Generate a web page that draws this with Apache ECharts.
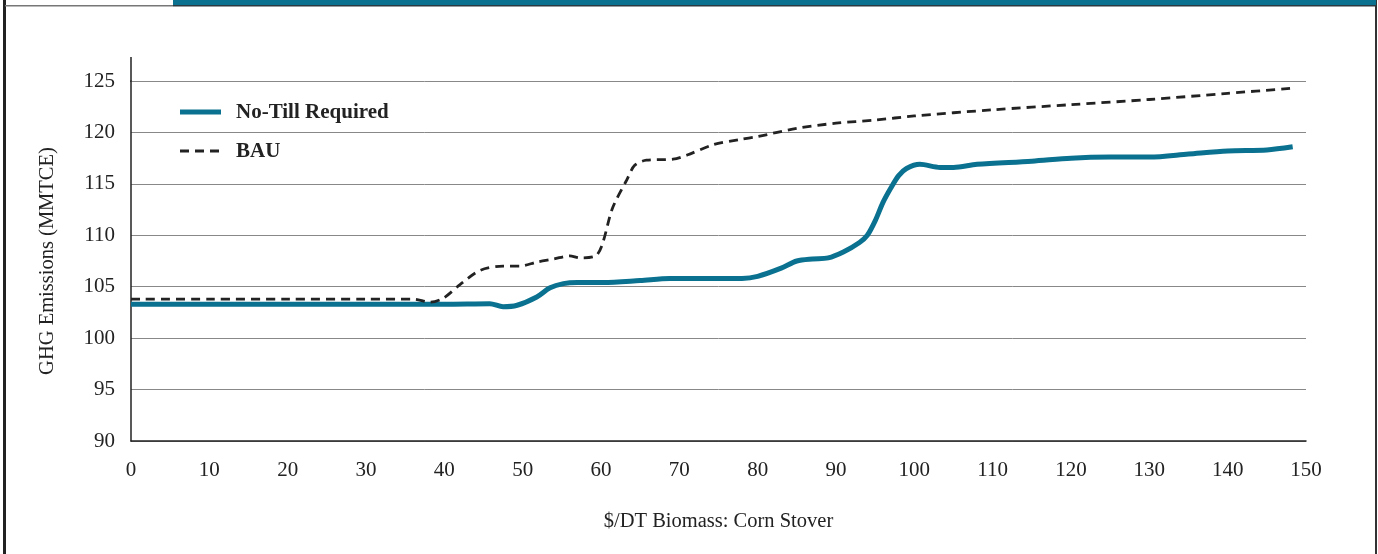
<!DOCTYPE html>
<html>
<head>
<meta charset="utf-8">
<script src="https://cdn.jsdelivr.net/npm/echarts@6/dist/echarts.min.js"></script>
<style>
html,body{margin:0;padding:0;background:#fff;}
#chart{width:1378px;height:554px;}
</style>
</head>
<body>
<div id="chart"></div>
<script>
// ---- data ----
const xTicks = [0,10,20,30,40,50,60,70,80,90,100,110,120,130,140,150];
const yTicks = [90,95,100,105,110,115,120,125];

const noTillX = [0,10,20,30,40,45.8,47.5,49.3,51.8,53.5,55.2,57,60.3,65,68.8,72,78,80,83,85,87,89,91,93,94,95,96,97,98,99,100.7,103.3,105,108,115,120,125,130,135,140,145,148.3];
const noTillY = [103.3,103.3,103.3,103.3,103.3,103.35,103.05,103.2,104.0,104.9,105.3,105.4,105.4,105.6,105.8,105.8,105.8,106.0,106.8,107.5,107.7,107.8,108.4,109.3,110.0,111.4,113.2,114.6,115.8,116.5,116.9,116.6,116.6,116.9,117.2,117.5,117.6,117.6,117.9,118.2,118.3,118.6];

const bauX = [0,10,20,30,36,38.2,39.9,42,44.6,47.5,49.7,51.8,54,56,57.3,59.5,61.5,63.3,64.3,65.8,69.2,71,74.3,77.7,80,85,90,95,100,110,120,130,140,148.3];
const bauY = [103.8,103.8,103.8,103.8,103.8,103.5,103.9,105.2,106.6,107.0,107.0,107.4,107.7,108.0,107.8,108.1,112.7,115.4,116.8,117.3,117.4,117.8,118.8,119.3,119.6,120.4,120.9,121.2,121.6,122.2,122.7,123.2,123.8,124.3];

const seriesNames = ['No-Till Required','BAU'];
const xName = '$/DT Biomass: Corn Stover';
const yName = 'GHG Emissions (MMTCE)';

const teal = '#0a7290';
const ink = '#222';
const font = '"Liberation Serif", "DejaVu Serif", serif';

const zip = (xs, ys) => xs.map((x, i) => [x, ys[i]]);

const chart = echarts.init(document.getElementById('chart'), null, {renderer: 'canvas'});
chart.setOption({
  animation: false,
  backgroundColor: '#fff',
  textStyle: {fontFamily: font},
  grid: {left: 131, right: 72, top: 81, bottom: 113, containLabel: false},
  legend: {show: false, data: seriesNames},
  xAxis: {
    type: 'value',
    min: 0, max: 150, interval: 10,
    name: xName,
    nameLocation: 'middle',
    nameGap: 70,
    nameTextStyle: {fontFamily: font, fontSize: 20.5, color: ink},
    axisLine: {show: true, lineStyle: {color: ink, width: 1.5}},
    axisTick: {show: false},
    splitLine: {show: false},
    axisLabel: {fontFamily: font, fontSize: 21, color: ink, margin: 19,
      formatter: v => xTicks.includes(v) ? String(v) : ''}
  },
  yAxis: {
    type: 'value',
    min: 90, max: 125, interval: 5,
    name: yName,
    nameLocation: 'middle',
    nameRotate: 90,
    nameGap: 73,
    nameTextStyle: {fontFamily: font, fontSize: 20.5, color: ink},
    axisLine: {show: true, lineStyle: {color: ink, width: 1.5}},
    axisTick: {show: false},
    splitLine: {show: true, lineStyle: {color: '#888', width: 1}},
    axisLabel: {fontFamily: font, fontSize: 21, color: ink, margin: 16,
      formatter: v => yTicks.includes(v) ? String(v) : ''}
  },
  series: [
    {
      name: seriesNames[0],
      type: 'line',
      data: zip(noTillX, noTillY),
      showSymbol: false,
      symbol: 'none',
      smooth: 0.3,
      itemStyle: {color: teal},
      lineStyle: {color: teal, width: 5},
      z: 3
    },
    {
      name: seriesNames[1],
      type: 'line',
      data: zip(bauX, bauY),
      showSymbol: false,
      symbol: 'none',
      smooth: 0.3,
      itemStyle: {color: ink},
      lineStyle: {color: ink, width: 2.8, type: [9, 6]},
      z: 4
    }
  ],
  graphic: [
    // legend
    {type: 'line', shape: {x1: 180, y1: 112, x2: 221, y2: 112}, style: {stroke: teal, lineWidth: 5}, silent: true},
    {type: 'text', x: 236, y: 113, style: {text: seriesNames[0], font: 'bold 21px ' + font, fill: ink, textVerticalAlign: 'middle', verticalAlign: 'middle'}, silent: true},
    {type: 'line', shape: {x1: 180, y1: 151, x2: 221, y2: 151}, style: {stroke: ink, lineWidth: 2.8, lineDash: [9, 6]}, silent: true},
    {type: 'text', x: 236, y: 152, style: {text: seriesNames[1], font: 'bold 21px ' + font, fill: ink, textVerticalAlign: 'middle', verticalAlign: 'middle'}, silent: true},
    // y-axis extension above top grid line
    {type: 'line', shape: {x1: 131, y1: 57, x2: 131, y2: 82}, style: {stroke: ink, lineWidth: 1.5}, silent: true},
    // left border
    {type: 'rect', shape: {x: 3, y: 0, width: 3, height: 554}, style: {fill: ink}, silent: true},
    // right border
    {type: 'rect', shape: {x: 1375, y: 0, width: 2, height: 554}, style: {fill: '#333'}, silent: true},
    // top-left tab bottom line
    {type: 'rect', shape: {x: 5, y: 5, width: 168, height: 1.5}, style: {fill: '#777'}, silent: true},
    // top teal bar
    {type: 'rect', shape: {x: 173, y: 0, width: 1203, height: 5}, style: {fill: teal}, silent: true},
    {type: 'rect', shape: {x: 173, y: 5, width: 1203, height: 1.5}, style: {fill: '#2a3a40'}, silent: true}
  ]
});
</script>
</body>
</html>
